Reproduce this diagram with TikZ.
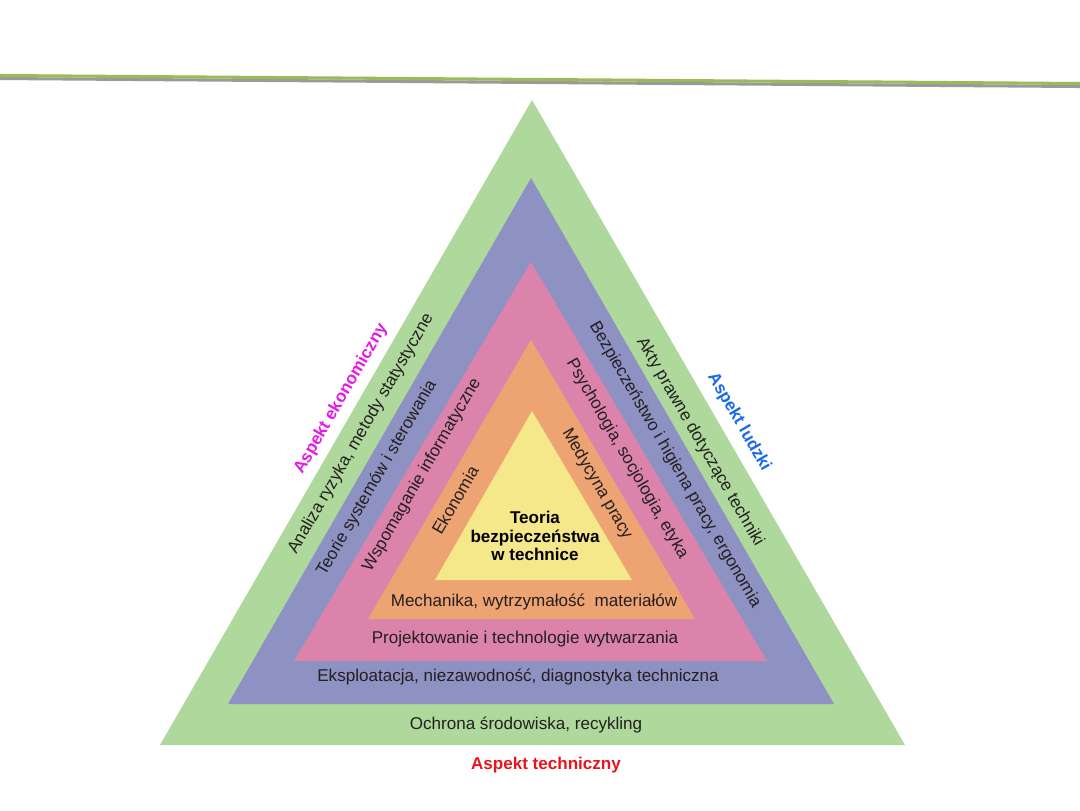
\documentclass[tikz,border=0pt]{standalone}
\usepackage{fontspec}
\setmainfont{Liberation Sans}
\definecolor{lgreen}{HTML}{AED89C}
\definecolor{lblue}{HTML}{8E92C2}
\definecolor{lpink}{HTML}{DC83AC}
\definecolor{lorange}{HTML}{EEA472}
\definecolor{lyellow}{HTML}{F5E88A}
\definecolor{linegreen}{HTML}{9BBB59}
\definecolor{linegray}{HTML}{9A9A9A}
\definecolor{txt}{HTML}{231F20}
\definecolor{aspmag}{HTML}{E619E6}
\definecolor{aspblue}{HTML}{1A6AE6}
\definecolor{aspred}{HTML}{E8141E}
\tikzset{
  lbl/.style={inner sep=0pt, text=txt, font=\fontsize{12.8}{15}\selectfont},
  asp/.style={inner sep=0pt, font=\fontsize{12.8}{15}\selectfont\bfseries},
  leftside/.style={lbl, rotate=60},
  rightside/.style={lbl, rotate=-60},
}
\begin{document}
\begin{tikzpicture}[x=0.75pt,y=-0.75pt]
\useasboundingbox (0,0) rectangle (1080,810);
\fill[white] (0,0) rectangle (1080,810);
% top line
\draw[linegray, line width=2.3pt] (0,78.5) -- (1080,86.5);
\draw[linegreen, line width=2.3pt] (0,75.5) -- (1080,83.5);
% triangles
\fill[lgreen] (532,100) -- (905,745) -- (160,745) -- cycle;
\fill[lblue] (531,178) -- (834,704) -- (228,704) -- cycle;
\fill[lpink] (531,262) -- (767,661) -- (294,661) -- cycle;
\fill[lorange] (531,340) -- (695,619) -- (368,619) -- cycle;
\fill[lyellow] (532,411) -- (632,580) -- (435,580) -- cycle;
% centre
\node[lbl, font=\fontsize{12.8}{13.9}\selectfont\bfseries, text=black, align=center] (center) at (535,536) {Teoria\\bezpieczeństwa\\w technice};
% bottom labels
\node[lbl] (mech) at (534,602) {Mechanika, wytrzymałość\ \ materiałów};
\node[lbl] (proj) at (525,639) {Projektowanie i technologie wytwarzania};
\node[lbl] (eksp) at (518,677) {Eksploatacja, niezawodność, diagnostyka techniczna};
\node[lbl] (ochr) at (526,725) {Ochrona środowiska, recykling};
\node[asp, text=aspred] (atech) at (546,765) {Aspekt techniczny};
% left side labels
\node[asp, text=aspmag, rotate=60] (aekon) at (341,399) {Aspekt ekonomiczny};
\node[leftside] (anal) at (361,434) {Analiza ryzyka, metody statystyczne};
\node[leftside] (teor) at (377,478) {Teorie systemów i sterowania};
\node[leftside] (wspo) at (422,475) {Wspomaganie informatyczne};
\node[leftside] (ekon) at (455,500) {Ekonomia};
% right side labels
\node[asp, text=aspblue, rotate=-60] (aludz) at (739,422) {Aspekt ludzki};
\node[rightside] (akty) at (700,442) {Akty prawne dotyczące techniki};
\node[rightside] (bezp) at (675,465) {Bezpieczeństwo i higiena pracy, ergonomia};
\node[rightside] (psyc) at (627,459) {Psychologia, socjologia, etyka};
\node[rightside] (medy) at (597,484) {Medycyna pracy};
\end{tikzpicture}
\end{document}
